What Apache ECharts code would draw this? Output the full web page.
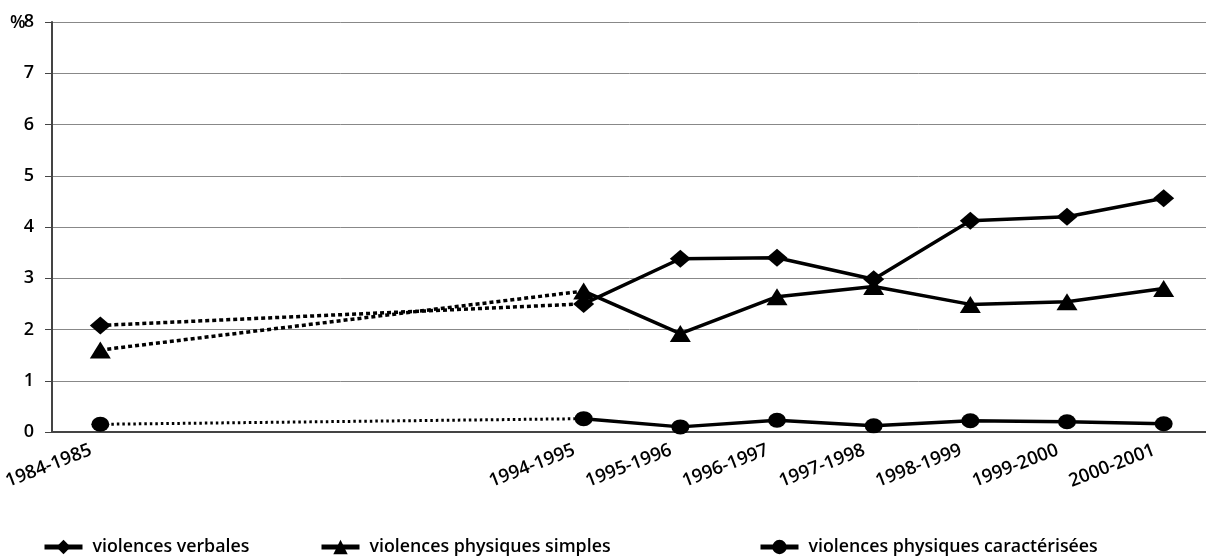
<!DOCTYPE html>
<html>
<head>
<meta charset="utf-8">
<script src="https://cdn.jsdelivr.net/npm/echarts@6/dist/echarts.min.js"></script>
<style>
  html, body { margin: 0; padding: 0; background: #fff; }
  #chart { width: 1206px; height: 560px; }
</style>
</head>
<body>
<div id="chart"></div>
<script>
// School years; blank slots keep the 1984-1985 survey at its distance from the later series
const years = ['1984-1985', '', '', '', '', '1994-1995', '1995-1996', '1996-1997',
  '1997-1998', '1998-1999', '1999-2000', '2000-2001'];

// Percentages per school year (null where no survey)
const verbales = [2.08, null, null, null, null, 2.5, 3.38, 3.4, 2.98, 4.12, 4.2, 4.56];
const physiquesSimples = [1.6, null, null, null, null, 2.75, 1.92, 2.64, 2.84, 2.49, 2.54, 2.8];
const physiquesCaracterisees = [0.15, null, null, null, null, 0.26, 0.1, 0.23, 0.12, 0.22, 0.2, 0.16];

const yTicks = [0, 1, 2, 3, 4, 5, 6, 7, 8];
const unitLabel = '%';

const seriesDefs = [
  { name: 'violences verbales', data: verbales, symbol: 'diamond', size: [21, 18], dash: [4, 3], dotWidth: 3.5 },
  { name: 'violences physiques simples', data: physiquesSimples, symbol: 'triangle', size: [21, 17], dash: [4, 3], dotWidth: 3.5 },
  { name: 'violences physiques caractérisées', data: physiquesCaracterisees, symbol: 'circle', size: [18, 15], dash: [2.5, 3], dotWidth: 3 }
];

const FONT = 'Open Sans';
const series = [];
const gapEnd = years.indexOf('1994-1995');
seriesDefs.forEach(d => {
  // dotted link across the gap between the two surveys
  series.push({
    name: d.name + ' (écart)',
    type: 'line',
    data: d.data.map((v, i) => (i <= gapEnd ? v : null)),
    connectNulls: true,
    showSymbol: false,
    symbol: 'none',
    silent: true,
    lineStyle: { color: '#000', width: d.dotWidth, type: d.dash },
    z: 2
  });
  // solid yearly series with markers
  series.push({
    name: d.name,
    type: 'line',
    data: d.data,
    connectNulls: false,
    symbol: d.symbol,
    symbolSize: d.size,
    showSymbol: true,
    showAllSymbol: true,
    itemStyle: { color: '#000' },
    lineStyle: { color: '#000', width: 3.5 },
    z: 3
  });
});

const legendStyle = {
  top: 533,
  itemWidth: 38,
  itemHeight: 18,
  lineStyle: { width: 5, color: '#000' },
  textStyle: { fontFamily: FONT, fontSize: 17.8, fontWeight: 600, color: '#000', padding: [0, 0, 0, 5] }
};

const chart = echarts.init(document.getElementById('chart'), null, { renderer: 'canvas' });
chart.setOption({
  animation: false,
  backgroundColor: '#fff',
  textStyle: { fontFamily: FONT },
  // unit of the value axis, set beside its top tick
  title: {
    text: unitLabel,
    left: 10,
    top: 11,
    padding: 0,
    textStyle: { fontFamily: FONT, fontSize: 18, fontWeight: 600, color: '#000', lineHeight: 24 }
  },
  grid: { left: 52, top: 22, width: 1160, bottom: 128, containLabel: false, outerBoundsMode: 'none' },
  legend: [
    Object.assign({ data: [seriesDefs[0].name], left: 37 }, legendStyle),
    Object.assign({ data: [seriesDefs[1].name], left: 314 }, legendStyle),
    Object.assign({ data: [seriesDefs[2].name], left: 753 }, legendStyle)
  ],
  xAxis: {
    type: 'category',
    data: years,
    boundaryGap: true,
    axisLine: { lineStyle: { color: '#444', width: 2 } },
    axisTick: { show: false },
    axisLabel: {
      interval: 0,
      rotate: 21,
      margin: 14,
      padding: [0, 10, 0, 0],
      color: '#000',
      fontFamily: FONT,
      fontSize: 18.5,
      fontWeight: 600
    }
  },
  yAxis: {
    type: 'value',
    min: yTicks[0],
    max: yTicks[yTicks.length - 1],
    interval: 1,
    axisLine: { show: true, lineStyle: { color: '#444', width: 2 } },
    axisTick: { show: true, length: 7, lineStyle: { color: '#444', width: 1 } },
    axisLabel: { color: '#000', fontFamily: FONT, fontSize: 18, fontWeight: 600, margin: 18 },
    splitLine: { show: true, lineStyle: { color: '#888', width: 1 } }
  },
  series: series
});
</script>
</body>
</html>
